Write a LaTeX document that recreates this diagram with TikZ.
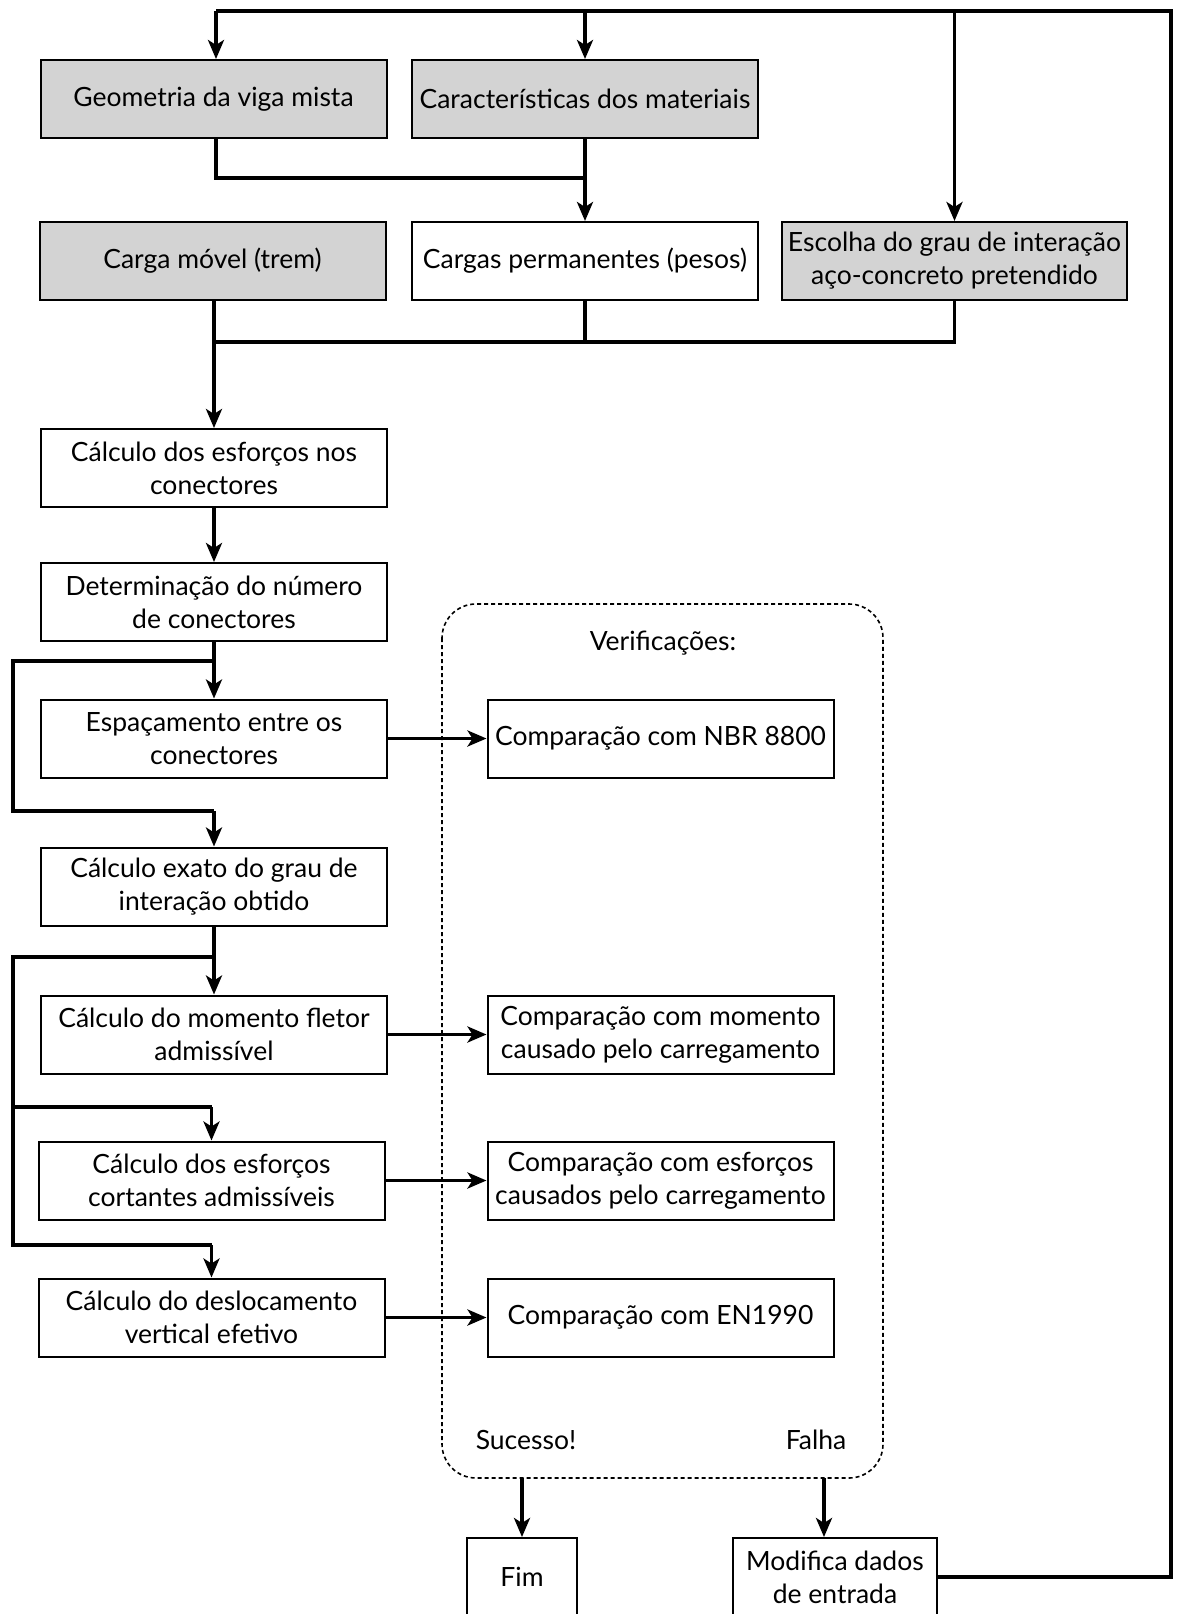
\documentclass[tikz,border=0pt]{standalone}
\usepackage{fontspec}
\setmainfont{Lato}
\usetikzlibrary{arrows.meta,calc}
\definecolor{boxgray}{RGB}{211,211,211}
\begin{document}
\begin{tikzpicture}[x=1pt,y=-1pt,
  txt/.style={font=\fontsize{26.5}{33}\selectfont},
  box/.style={draw=black, line width=2pt, minimum width=346pt, minimum height=78pt, align=center, inner sep=0pt, txt},
  gbox/.style={box, fill=boxgray},
  conn/.style={line width=3.5pt},
  arr/.style={conn, -{Stealth[length=19pt,width=16pt,inset=5pt]}},
  lbl/.style={txt, inner sep=0pt},
  verif/.style={dashed, line width=1.6pt, dash pattern=on 4pt off 3pt, rounded corners=34pt}
]
\fill[white] (0,0) rectangle (1176,1614);
\useasboundingbox (0,0) rectangle (1176,1614);

% row 1
\node[gbox] (geo) at (213.5,99) {Geometria da viga mista};
\node[gbox] (car) at (585,99) {Características dos materiais};
% row 2
\node[gbox] (movel) at (212.5,261) {Carga móvel (trem)};
\node[box] (perm) at (585,261) {Cargas permanentes (pesos)};
\node[gbox, minimum width=345pt] (esc) at (954.5,261) {Escolha do grau de interação\\aço-concreto pretendido};
% left column
\node[box] (c1) at (214,468) {Cálculo dos esforços nos\\conectores};
\node[box] (c2) at (214,602) {Determinação do número\\de conectores};
\node[box] (c3) at (214,738.5) {Espaçamento entre os\\conectores};
\node[box] (c4) at (214,886.5) {Cálculo exato do grau de\\interação obtido};
\node[box] (c5) at (214,1034.5) {Cálculo do momento fletor\\admissível};
\node[box] (c6) at (211.5,1180.5) {Cálculo dos esforços\\cortantes admissíveis};
\node[box] (c7) at (211.5,1317.5) {Cálculo do deslocamento\\vertical efetivo};
% verification area
\draw[verif] (442,604) rectangle (883,1478);
\node[lbl] (vt) at (663,643) {Verificações:};
\node[box] (v1) at (660.5,738.5) {Comparação com NBR 8800};
\node[box] (v2) at (660.5,1034.5) {Comparação com momento\\causado pelo carregamento};
\node[box] (v3) at (660.5,1180.5) {Comparação com esforços\\causados pelo carregamento};
\node[box] (v4) at (660.5,1317.5) {Comparação com EN1990};
\node[lbl] (suc) at (526,1440) {Sucesso!};
\node[lbl] (fal) at (816,1440) {Falha};
% bottom
\node[box, minimum width=110pt] (fim) at (522,1577) {Fim};
\node[box, minimum width=204pt] (mod) at (835,1577) {Modifica dados\\de entrada};

% coordinates
\coordinate (s1) at (522,1478);
\coordinate (f1) at (824,1478);
\coordinate (tr) at (1171,11);
\coordinate (tl) at (216,11);
\coordinate (j1) at (585,178);
\coordinate (j2) at (214,342);
\coordinate (la) at (13,661);
\coordinate (lb) at (13,811);
\coordinate (lc) at (13,957);
\coordinate (ld) at (13,1107);
\coordinate (le) at (13,1245);

% feedback loop
\draw[conn] (mod.east) -- (mod.east -| tr) -- (tr) -- (tl);
\draw[arr] (tl) -- (tl |- geo.north);
\draw[arr] (car.north |- tr) -- (car.north);
\draw[arr] (esc.north |- tr) -- (esc.north);
% row1 -> perm
\draw[conn] (tl |- geo.south) -- (tl |- j1) -- (j1);
\draw[arr] (car.south) -- (perm.north);
% row2 -> c1
\draw[conn] (esc.south) -- (esc.south |- j2) -- (j2);
\draw[conn] (perm.south) -- (perm.south |- j2);
\draw[arr] (j2 |- movel.south) -- (c1.north);
\draw[arr] (c1.south) -- (c2.north);
\draw[arr] (c2.south) -- (c3.north);
\draw[conn] (c2.south |- la) -- (la) -- (lb) -- (lb -| c4.north);
\draw[arr] (lb -| c4.north) -- (c4.north);
\draw[arr] (c4.south) -- (c5.north);
\draw[conn] (c4.south |- lc) -- (lc) -- (le) -- (le -| c7.north);
\draw[conn] (ld) -- (ld -| c6.north);
\draw[arr] (ld -| c6.north) -- (c6.north);
\draw[arr] (le -| c7.north) -- (c7.north);
% to verifications
\draw[arr] (c3.east) -- (v1.west);
\draw[arr] (c5.east) -- (v2.west);
\draw[arr] (c6.east) -- (v3.west);
\draw[arr] (c7.east) -- (v4.west);
% results
\draw[arr] (s1) -- (fim.north);
\draw[arr] (f1) -- (f1 |- mod.north);
\end{tikzpicture}
\end{document}
